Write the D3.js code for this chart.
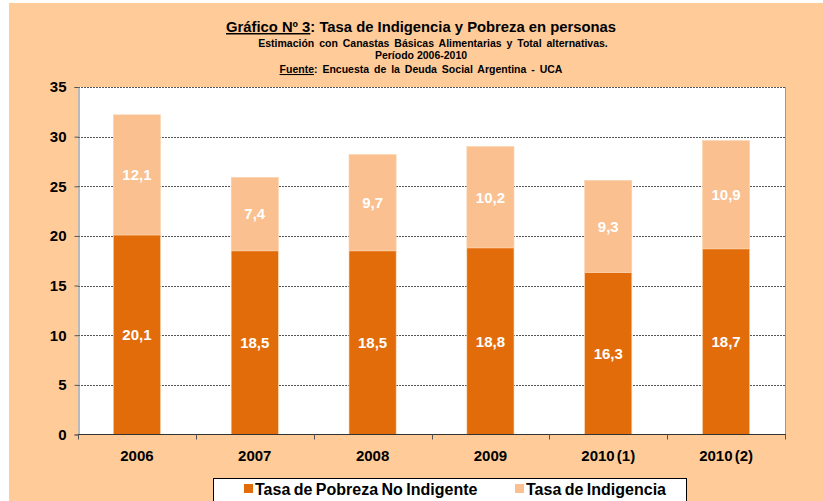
<!DOCTYPE html>
<html>
<head>
<meta charset="utf-8">
<script src="https://cdn.jsdelivr.net/npm/d3@7"></script>
<style>
  body { margin: 0; background: #fff; }
  svg { display: block; font-family: "Liberation Sans", Arial, sans-serif; }
</style>
</head>
<body>
<div id="chart"></div>
<script>
const categories = ["2006", "2007", "2008", "2009", "2010 (1)", "2010 (2)"];
const pobrezaNoIndigente = [20.1, 18.5, 18.5, 18.8, 16.3, 18.7];
const indigencia = [12.1, 7.4, 9.7, 10.2, 9.3, 10.9];
const yTicks = [0, 5, 10, 15, 20, 25, 30, 35];
const seriesNames = ["Tasa de Pobreza No Indigente", "Tasa de Indigencia"];
const colors = ["#E36C0A", "#FAC090"];

const width = 823, height = 501;
const plot = { left: 78, right: 785, top: 87, bottom: 434.5 };

const svg = d3.select("#chart").append("svg")
    .attr("width", width)
    .attr("height", height);

// peach background
svg.append("rect")
    .attr("x", 9).attr("y", 3)
    .attr("width", width - 9).attr("height", height - 3)
    .attr("fill", "#FFCC99");

// titles
const title = svg.append("text")
    .attr("x", 421).attr("y", 32)
    .attr("text-anchor", "middle")
    .attr("font-size", "14.8px")
    .attr("font-weight", "bold")
    .attr("fill", "#000");
title.append("tspan").attr("text-decoration", "underline").text("Gráfico Nº 3");
title.append("tspan").text(": Tasa de Indigencia y Pobreza en personas");

svg.append("text")
    .attr("x", 433).attr("y", 47)
    .attr("text-anchor", "middle")
    .attr("font-size", "10.5px").attr("font-weight", "bold")
    .attr("word-spacing", "2px")
    .text("Estimación con Canastas  Básicas  Alimentarias  y Total  alternativas.");
svg.append("text")
    .attr("x", 421).attr("y", 59)
    .attr("text-anchor", "middle")
    .attr("font-size", "10.5px").attr("font-weight", "bold")
    .text("Período 2006-2010");
const src = svg.append("text")
    .attr("x", 421).attr("y", 73)
    .attr("text-anchor", "middle")
    .attr("font-size", "10.5px").attr("font-weight", "bold")
    .attr("word-spacing", "2px");
src.append("tspan").attr("text-decoration", "underline").text("Fuente");
src.append("tspan").text(": Encuesta  de la Deuda Social Argentina  - UCA");

// scales
const x = d3.scaleBand()
    .domain(categories)
    .range([plot.left, plot.right])
    .paddingInner(0.6)
    .paddingOuter(0.3);
const y = d3.scaleLinear()
    .domain([0, 35])
    .range([plot.bottom, plot.top]);

// plot area
svg.append("rect")
    .attr("x", plot.left).attr("y", plot.top)
    .attr("width", plot.right - plot.left)
    .attr("height", plot.bottom - plot.top)
    .attr("fill", "#fff");

// grid lines
svg.append("g")
    .selectAll("line")
    .data(yTicks.filter(d => d > 0))
    .join("line")
    .attr("x1", plot.left).attr("x2", plot.right)
    .attr("y1", d => Math.round(y(d)) + 0.5)
    .attr("y2", d => Math.round(y(d)) + 0.5)
    .attr("stroke", "#555")
    .attr("stroke-width", 1)
    .attr("stroke-dasharray", "2,1");

// stacked bars
const rows = categories.map((c, i) => ({ cat: c, a: pobrezaNoIndigente[i], b: indigencia[i] }));
const stacked = d3.stack().keys(["a", "b"])(rows);

const layers = svg.append("g")
    .selectAll("g")
    .data(stacked)
    .join("g")
    .attr("fill", (d, i) => colors[i]);

layers.selectAll("rect")
    .data(d => d)
    .join("rect")
    .attr("x", d => x(d.data.cat))
    .attr("y", d => y(d[1]))
    .attr("width", x.bandwidth())
    .attr("height", d => y(d[0]) - y(d[1]))
    .attr("stroke", "#FBD3AE")
    .attr("stroke-width", 0.6);

layers.selectAll("text")
    .data(d => d)
    .join("text")
    .attr("x", d => x(d.data.cat) + x.bandwidth() / 2)
    .attr("y", d => y((d[0] + d[1]) / 2))
    .attr("dy", "0.36em")
    .attr("text-anchor", "middle")
    .attr("font-size", "15px")
    .attr("font-weight", "bold")
    .attr("fill", "#fff")
    .text(d => d3.format(".1f")(d[1] - d[0]).replace(".", ","));

// right border
svg.append("line")
    .attr("x1", plot.right + 0.5).attr("x2", plot.right + 0.5)
    .attr("y1", plot.top).attr("y2", plot.bottom)
    .attr("stroke", "#999").attr("stroke-width", 1);

// y axis
const yAxis = svg.append("g")
    .attr("transform", `translate(${plot.left + 0.5},0)`)
    .call(d3.axisLeft(y).tickValues(yTicks).tickSize(4).tickPadding(8).tickFormat(d3.format("d")));
yAxis.select(".domain").attr("stroke", "#777");
yAxis.selectAll(".tick line").attr("stroke", "#555");
yAxis.selectAll("text")
    .attr("font-size", "15px").attr("font-weight", "bold")
    .attr("fill", "#000")
    .attr("font-family", "Liberation Sans, Arial, sans-serif");

// x axis, ticks at category boundaries
const xAxis = svg.append("g")
    .attr("transform", `translate(0,${plot.bottom})`);
xAxis.append("line")
    .attr("x1", plot.left).attr("x2", plot.right + 1)
    .attr("stroke", "#333").attr("stroke-width", 1);
xAxis.selectAll("line.tk")
    .data(d3.range(categories.length + 1))
    .join("line")
    .attr("class", "tk")
    .attr("x1", i => Math.round(plot.left + i * (plot.right - plot.left) / categories.length) + 0.5)
    .attr("x2", i => Math.round(plot.left + i * (plot.right - plot.left) / categories.length) + 0.5)
    .attr("y1", 0).attr("y2", 5)
    .attr("stroke", "#555");
xAxis.selectAll("text")
    .data(categories)
    .join("text")
    .attr("x", d => x(d) + x.bandwidth() / 2)
    .attr("y", 26)
    .attr("text-anchor", "middle")
    .attr("font-size", "15px").attr("font-weight", "bold")
    .attr("word-spacing", "-2px")
    .attr("fill", "#000")
    .text(d => d);

// legend
const legend = svg.append("g");
legend.append("rect")
    .attr("x", 213.5).attr("y", 478.5)
    .attr("width", 473).attr("height", 30)
    .attr("fill", "#fff")
    .attr("stroke", "#000").attr("stroke-width", 1);
const legendX = [244, 515];
const items = legend.selectAll("g")
    .data(seriesNames)
    .join("g")
    .attr("transform", (d, i) => `translate(${legendX[i]},490)`);
items.append("rect")
    .attr("x", 0).attr("y", -6)
    .attr("width", 9).attr("height", 9)
    .attr("fill", (d, i) => colors[i]);
items.append("text")
    .attr("x", 11).attr("y", 5)
    .attr("font-size", "16px").attr("font-weight", "bold")
    .attr("word-spacing", "-1px")
    .attr("fill", "#000")
    .text(d => d);
</script>
</body>
</html>
